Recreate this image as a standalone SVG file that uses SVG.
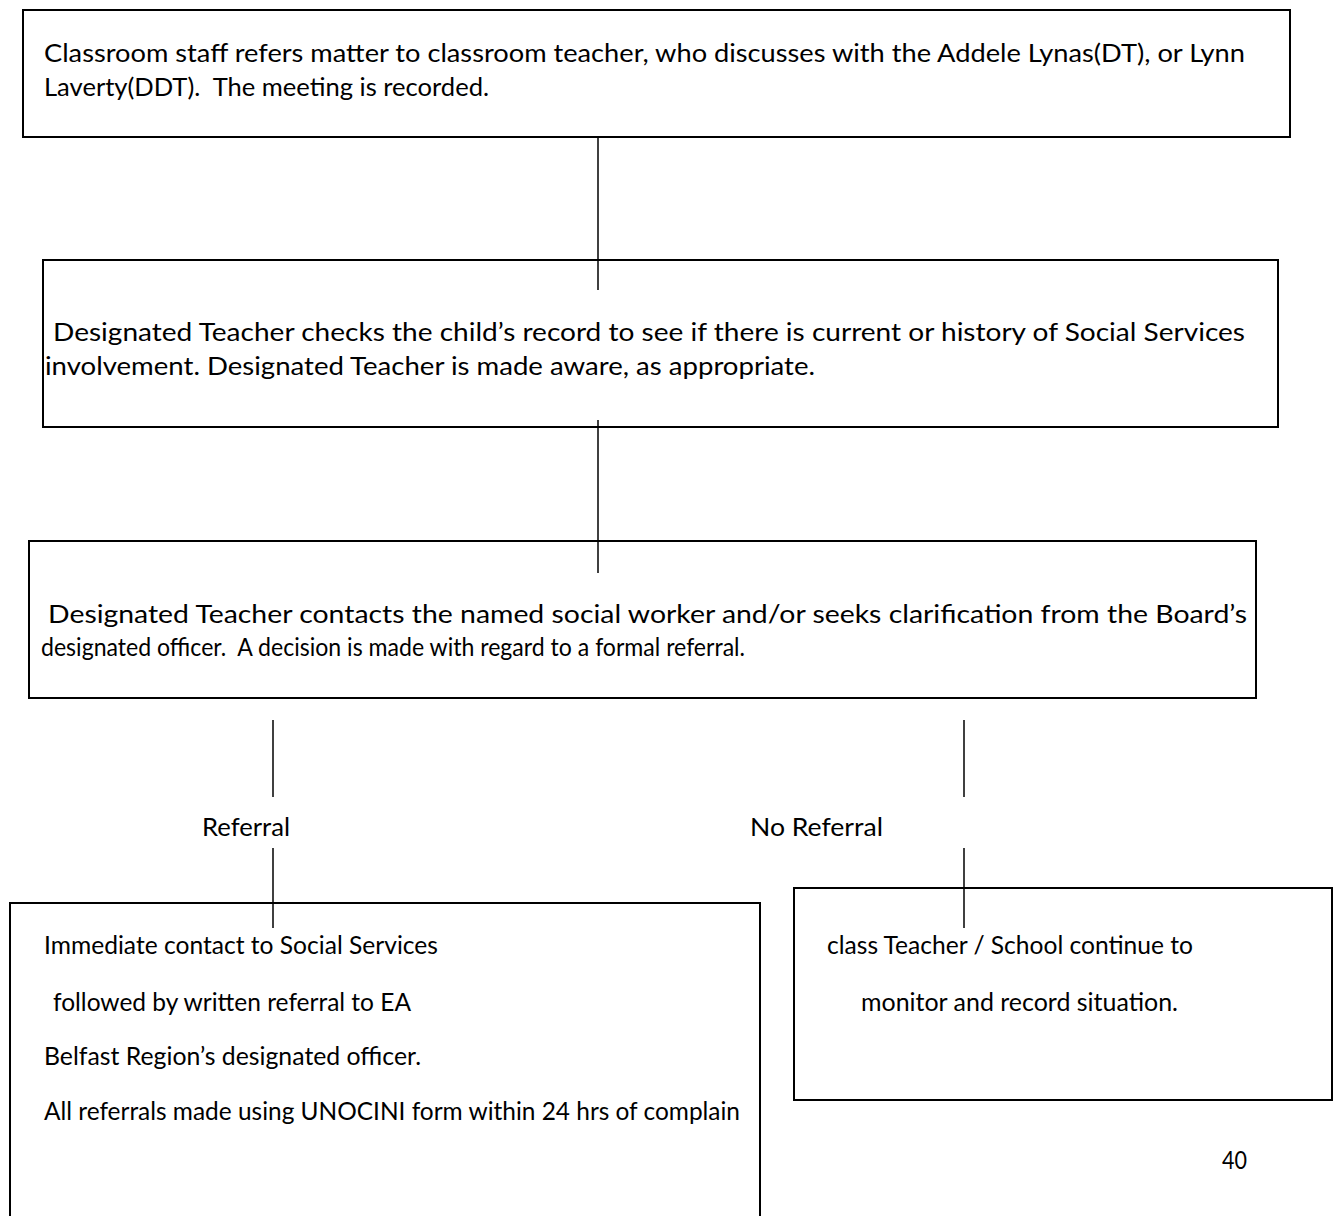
<svg xmlns="http://www.w3.org/2000/svg" width="1339" height="1216" viewBox="0 0 1339 1216">
<style>
.box{fill:#fff;stroke:#000;stroke-width:2}
.conn line{stroke:#000;stroke-width:1.5}
text{font-family:Lato,"Liberation Sans",Arial,sans-serif;font-size:25px;fill:#000;white-space:pre}
</style>
<rect width="1339" height="1216" fill="#fff"/>
<g id="node1">
<rect class="box" x="23" y="10" width="1267" height="127"/>
<text x="44" y="62" textLength="1201" lengthAdjust="spacingAndGlyphs">Classroom staff refers matter to classroom teacher, who discusses with the Addele Lynas(DT), or Lynn</text>
<text x="44" y="96" textLength="445" lengthAdjust="spacingAndGlyphs" xml:space="preserve">Laverty(DDT).  The meeting is recorded.</text>
</g>
<g id="node2">
<rect class="box" x="43" y="260" width="1235" height="167"/>
<text x="53" y="341" textLength="1192" lengthAdjust="spacingAndGlyphs">Designated Teacher checks the child’s record to see if there is current or history of Social Services</text>
<text x="45" y="375" textLength="770" lengthAdjust="spacingAndGlyphs">involvement. Designated Teacher is made aware, as appropriate.</text>
</g>
<g id="node3">
<rect class="box" x="29" y="541" width="1227" height="157"/>
<text x="48" y="623" textLength="1199" lengthAdjust="spacingAndGlyphs">Designated Teacher contacts the named social worker and/or seeks clarification from the Board’s</text>
<text x="41" y="656" textLength="704" lengthAdjust="spacingAndGlyphs" xml:space="preserve">designated officer.  A decision is made with regard to a formal referral.</text>
</g>
<g id="node4">
<rect class="box" x="10" y="903" width="750" height="320"/>
<text x="44" y="954" textLength="394" lengthAdjust="spacingAndGlyphs">Immediate contact to Social Services</text>
<text x="53" y="1011" textLength="358" lengthAdjust="spacingAndGlyphs">followed by written referral to EA</text>
<text x="44" y="1065" textLength="377" lengthAdjust="spacingAndGlyphs">Belfast Region’s designated officer.</text>
<text x="44" y="1120" textLength="696" lengthAdjust="spacingAndGlyphs">All referrals made using UNOCINI form within 24 hrs of complain</text>
</g>
<g id="node5">
<rect class="box" x="794" y="888" width="538" height="212"/>
<text x="827" y="954" textLength="366" lengthAdjust="spacingAndGlyphs">class Teacher / School continue to</text>
<text x="861" y="1011" textLength="317" lengthAdjust="spacingAndGlyphs">monitor and record situation.</text>
</g>
<g id="connectors" class="conn">
<line x1="598" y1="137" x2="598" y2="290"/>
<line x1="598" y1="420" x2="598" y2="573"/>
<line x1="273" y1="720" x2="273" y2="797"/>
<line x1="273" y1="848" x2="273" y2="928"/>
<line x1="964" y1="720" x2="964" y2="797"/>
<line x1="964" y1="848" x2="964" y2="928"/>
</g>
<g id="labels">
<text x="202" y="836" textLength="88" lengthAdjust="spacingAndGlyphs">Referral</text>
<text x="750" y="836" textLength="133" lengthAdjust="spacingAndGlyphs">No Referral</text>
<text x="1222" y="1169" textLength="25" lengthAdjust="spacingAndGlyphs">40</text>
</g>
</svg>
